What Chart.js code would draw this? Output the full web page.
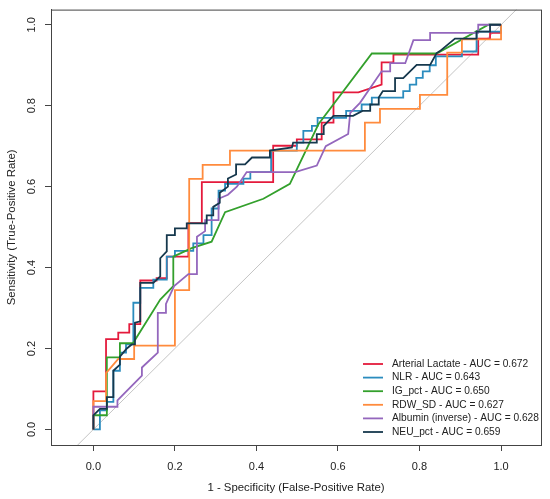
<!DOCTYPE html>
<html>
<head>
<meta charset="utf-8">
<script src="https://cdn.jsdelivr.net/npm/chart.js@4.4.1/dist/chart.umd.min.js"></script>
<style>
  body { margin: 0; background: #fff; }
  canvas { display: block; }
</style>
</head>
<body>
<canvas id="roc" width="550" height="499"></canvas>
<script>
// tick labels
const xTicks = [0, 0.2, 0.4, 0.6, 0.8, 1.0];
const yTicks = [0, 0.2, 0.4, 0.6, 0.8, 1.0];

// legend text
const seriesNames = ['Arterial Lactate', 'NLR', 'IG_pct', 'RDW_SD', 'Albumin (inverse)', 'NEU_pct'];
const aucValues = [0.672, 0.643, 0.650, 0.627, 0.628, 0.659];
const seriesColors = ['#E41A3C', '#2B8CBE', '#33A02C', '#FF8B3D', '#9467BD', '#16384D'];

// chance line
const refFpr = [-0.2, 1.2];
const refTpr = [-0.2, 1.2];

// ROC curves (1 - specificity, sensitivity)
const lactateFpr = [0, 0, 0.031, 0.031, 0.061, 0.061, 0.088, 0.088, 0.115, 0.115, 0.155, 0.155, 0.18, 0.18, 0.233, 0.233, 0.266, 0.266, 0.441, 0.441, 0.499, 0.499, 0.56, 0.56, 0.589, 0.589, 0.65, 0.707, 0.707, 0.736, 0.736, 0.944, 0.944, 0.973, 0.973, 1, 1];
const lactateTpr = [0, 0.094, 0.094, 0.223, 0.223, 0.239, 0.239, 0.26, 0.26, 0.368, 0.368, 0.374, 0.374, 0.427, 0.427, 0.51, 0.51, 0.611, 0.611, 0.701, 0.701, 0.717, 0.717, 0.758, 0.758, 0.833, 0.833, 0.852, 0.907, 0.907, 0.926, 0.926, 0.966, 0.966, 0.98, 0.98, 1];

const nlrFpr = [0, 0.016, 0.016, 0.033, 0.033, 0.049, 0.049, 0.065, 0.065, 0.08, 0.08, 0.098, 0.098, 0.115, 0.115, 0.147, 0.147, 0.18, 0.18, 0.2, 0.2, 0.245, 0.245, 0.27, 0.27, 0.29, 0.29, 0.307, 0.307, 0.323, 0.323, 0.368, 0.368, 0.385, 0.385, 0.436, 0.436, 0.499, 0.499, 0.515, 0.515, 0.536, 0.536, 0.55, 0.55, 0.62, 0.62, 0.658, 0.658, 0.683, 0.683, 0.76, 0.76, 0.776, 0.776, 0.792, 0.792, 0.808, 0.808, 0.825, 0.825, 0.84, 0.84, 0.904, 0.904, 0.94, 0.94, 1, 1];
const nlrTpr = [0, 0, 0.047, 0.047, 0.068, 0.068, 0.145, 0.145, 0.19, 0.19, 0.21, 0.21, 0.313, 0.313, 0.35, 0.35, 0.37, 0.37, 0.427, 0.427, 0.441, 0.441, 0.46, 0.46, 0.48, 0.48, 0.546, 0.546, 0.59, 0.59, 0.607, 0.607, 0.62, 0.62, 0.636, 0.636, 0.689, 0.689, 0.709, 0.709, 0.738, 0.738, 0.75, 0.75, 0.77, 0.77, 0.787, 0.787, 0.803, 0.803, 0.82, 0.82, 0.836, 0.836, 0.852, 0.852, 0.869, 0.869, 0.885, 0.885, 0.9, 0.9, 0.922, 0.922, 0.934, 0.934, 0.983, 0.983, 1];

const igFpr = [0, 0, 0.033, 0.033, 0.065, 0.065, 0.097, 0.164, 0.196, 0.196, 0.241, 0.29, 0.323, 0.417, 0.482, 0.552, 0.683, 0.842, 0.969, 1];
const igTpr = [0, 0.035, 0.035, 0.178, 0.178, 0.213, 0.213, 0.321, 0.354, 0.427, 0.448, 0.464, 0.537, 0.57, 0.607, 0.754, 0.929, 0.929, 1, 1];

const rdwFpr = [0, 0, 0.031, 0.031, 0.061, 0.1, 0.1, 0.2, 0.2, 0.235, 0.235, 0.268, 0.268, 0.335, 0.335, 0.666, 0.666, 0.703, 0.703, 0.801, 0.801, 0.868, 0.868, 0.904, 0.904, 1, 1];
const rdwTpr = [0, 0.07, 0.07, 0.139, 0.174, 0.174, 0.207, 0.207, 0.344, 0.344, 0.619, 0.619, 0.654, 0.654, 0.689, 0.689, 0.758, 0.758, 0.792, 0.792, 0.827, 0.827, 0.931, 0.931, 0.964, 0.964, 1];

const albuminFpr = [0, 0, 0.059, 0.059, 0.119, 0.119, 0.158, 0.158, 0.178, 0.178, 0.198, 0.233, 0.254, 0.254, 0.274, 0.274, 0.307, 0.307, 0.33, 0.352, 0.376, 0.495, 0.548, 0.57, 0.625, 0.63, 0.654, 0.707, 0.728, 0.728, 0.765, 0.785, 0.826, 0.826, 0.944, 0.944, 1];
const albuminTpr = [0, 0.056, 0.056, 0.072, 0.133, 0.153, 0.19, 0.288, 0.288, 0.31, 0.354, 0.384, 0.384, 0.476, 0.49, 0.517, 0.517, 0.57, 0.58, 0.6, 0.636, 0.636, 0.652, 0.7, 0.73, 0.782, 0.807, 0.885, 0.885, 0.905, 0.905, 0.962, 0.962, 0.98, 0.98, 1, 1];

const neuFpr = [0, 0, 0.016, 0.033, 0.033, 0.049, 0.049, 0.065, 0.065, 0.082, 0.094, 0.102, 0.102, 0.115, 0.115, 0.147, 0.164, 0.164, 0.18, 0.18, 0.2, 0.2, 0.229, 0.229, 0.278, 0.278, 0.294, 0.294, 0.31, 0.31, 0.33, 0.33, 0.35, 0.35, 0.372, 0.389, 0.433, 0.433, 0.487, 0.49, 0.548, 0.548, 0.565, 0.565, 0.589, 0.637, 0.66, 0.679, 0.679, 0.7, 0.7, 0.71, 0.74, 0.74, 0.76, 0.793, 0.826, 0.842, 0.85, 0.887, 0.94, 0.94, 0.973, 0.973, 1];
const neuTpr = [0, 0.035, 0.051, 0.051, 0.08, 0.08, 0.145, 0.16, 0.18, 0.2, 0.21, 0.21, 0.264, 0.267, 0.362, 0.362, 0.378, 0.423, 0.44, 0.48, 0.48, 0.497, 0.497, 0.509, 0.509, 0.529, 0.529, 0.55, 0.56, 0.585, 0.6, 0.62, 0.63, 0.655, 0.655, 0.672, 0.672, 0.689, 0.697, 0.709, 0.709, 0.73, 0.73, 0.75, 0.775, 0.775, 0.787, 0.787, 0.803, 0.803, 0.82, 0.836, 0.836, 0.868, 0.868, 0.901, 0.901, 0.93, 0.935, 0.966, 0.966, 0.983, 0.983, 1, 1];

const curves = [
    [lactateFpr, lactateTpr],
    [nlrFpr, nlrTpr],
    [igFpr, igTpr],
    [rdwFpr, rdwTpr],
    [albuminFpr, albuminTpr],
    [neuFpr, neuTpr]
];

const FONT = '"Liberation Sans", Arial, Helvetica, sans-serif';
const INK = '#222';
const AXIS = '#444';

function toPoints(xs, ys) {
    return xs.map((x, i) => ({ x: x, y: ys[i] }));
}

const datasets = curves.map((c, i) => ({
    label: seriesNames[i] + ' - AUC = ' + aucValues[i].toFixed(3),
    data: toPoints(c[0], c[1]),
    showLine: true,
    borderColor: seriesColors[i],
    backgroundColor: seriesColors[i],
    borderWidth: 1.8,
    pointRadius: 0,
    tension: 0,
    fill: false,
    // later series are drawn on top, as in the original
    order: curves.length - i
}));

datasets.push({
    label: 'chance',
    data: toPoints(refFpr, refTpr),
    showLine: true,
    borderColor: '#c4c4c4',
    borderWidth: 1,
    pointRadius: 0,
    fill: false,
    order: 99
});

// frame round the plot region
const boxPlugin = {
    id: 'box',
    afterDatasetsDraw(chart) {
        const a = chart.chartArea;
        const ctx = chart.ctx;
        ctx.save();
        ctx.strokeStyle = AXIS;
        ctx.lineWidth = 1;
        ctx.strokeRect(a.left + 0.5, a.top + 0.5, a.right - a.left, a.bottom - a.top);
        ctx.restore();
    }
};

// y tick labels turned sideways, like base R graphics
const yLabelPlugin = {
    id: 'yLabels',
    afterDraw(chart) {
        const scale = chart.scales.y;
        const ctx = chart.ctx;
        ctx.save();
        ctx.fillStyle = INK;
        ctx.font = '11px ' + FONT;
        ctx.textAlign = 'center';
        ctx.textBaseline = 'middle';
        yTicks.forEach(v => {
            const py = scale.getPixelForValue(v);
            ctx.save();
            ctx.translate(32, py);
            ctx.rotate(-Math.PI / 2);
            ctx.fillText(v.toFixed(1), 0, 0);
            ctx.restore();
        });
        ctx.restore();
    }
};

// borderless legend in the lower right corner
const legendPlugin = {
    id: 'rocLegend',
    afterDraw(chart) {
        const a = chart.chartArea;
        const ctx = chart.ctx;
        ctx.save();
        ctx.font = '10.2px ' + FONT;
        ctx.textBaseline = 'middle';
        ctx.textAlign = 'left';
        chart.data.datasets.slice(0, seriesNames.length).forEach((ds, i) => {
            const y = a.bottom - 81 + i * 13.6;
            ctx.strokeStyle = ds.borderColor;
            ctx.lineWidth = 1.8;
            ctx.beginPath();
            ctx.moveTo(a.right - 178, y);
            ctx.lineTo(a.right - 158, y);
            ctx.stroke();
            ctx.fillStyle = INK;
            ctx.fillText(ds.label, a.right - 149, y);
        });
        ctx.restore();
    }
};

new Chart(document.getElementById('roc'), {
    type: 'scatter',
    data: { datasets: datasets },
    options: {
        responsive: false,
        animation: false,
        devicePixelRatio: 1,
        layout: { padding: { top: 6, right: 9, left: 0, bottom: 0 } },
        plugins: {
            legend: { display: false },
            tooltip: { enabled: false }
        },
        scales: {
            x: {
                type: 'linear',
                min: -0.104,
                max: 1.098,
                afterBuildTicks: scale => {
                    scale.ticks = xTicks.map(v => ({ value: v }));
                },
                afterFit: scale => { scale.height = 54; },
                grid: {
                    drawOnChartArea: false,
                    drawTicks: true,
                    tickLength: 6,
                    color: AXIS
                },
                border: { display: true, color: AXIS },
                ticks: {
                    color: INK,
                    font: { family: FONT, size: 11 },
                    padding: 9,
                    maxRotation: 0,
                    callback: v => v.toFixed(1)
                },
                title: {
                    display: true,
                    text: '1 - Specificity (False-Positive Rate)',
                    color: INK,
                    font: { family: FONT, size: 11.4 },
                    padding: { top: 0, bottom: 4 }
                }
            },
            y: {
                type: 'linear',
                min: -0.0385,
                max: 1.0375,
                afterBuildTicks: scale => {
                    scale.ticks = yTicks.map(v => ({ value: v }));
                },
                afterFit: scale => { scale.width = 51; },
                grid: {
                    drawOnChartArea: false,
                    drawTicks: true,
                    tickLength: 6,
                    color: AXIS
                },
                border: { display: true, color: AXIS },
                ticks: {
                    color: 'rgba(0,0,0,0)',
                    font: { family: FONT, size: 11 },
                    callback: v => v.toFixed(1)
                },
                title: {
                    display: true,
                    text: 'Sensitivity (True-Positive Rate)',
                    color: INK,
                    font: { family: FONT, size: 11.4 },
                    padding: { top: 5, bottom: 0 }
                }
            }
        }
    },
    plugins: [boxPlugin, yLabelPlugin, legendPlugin]
});
</script>
</body>
</html>
